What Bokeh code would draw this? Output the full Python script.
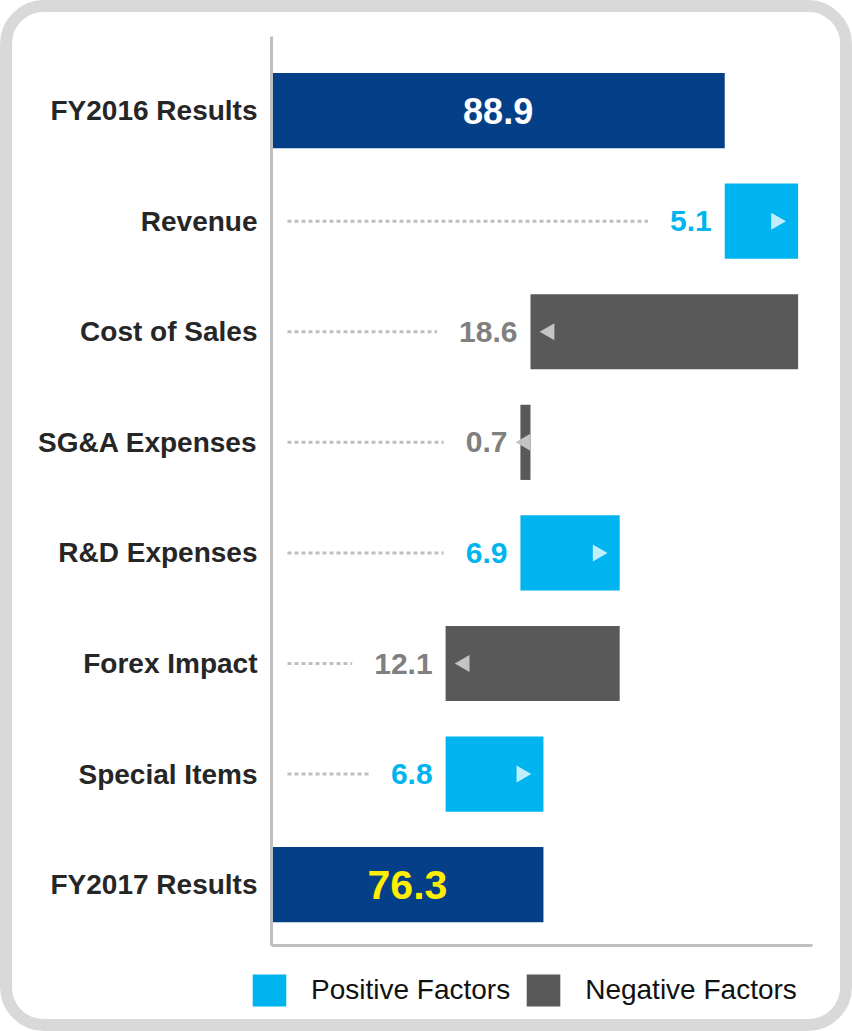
import math
from bokeh.plotting import figure
from bokeh.models import (Range1d, FixedTicker, Legend, LegendItem, ColumnDataSource, Column)
from bokeh.core.properties import value
from bokeh.embed import file_html
from bokeh.resources import INLINE

# ---------------- data ----------------
categories = ["FY2016 Results", "Revenue", "Cost of Sales", "SG&A Expenses",
              "R&D Expenses", "Forex Impact", "Special Items", "FY2017 Results"]
kinds = ["total", "positive", "negative", "negative",
         "positive", "negative", "positive", "total"]
amounts = [88.9, 5.1, 18.6, 0.7, 6.9, 12.1, 6.8, 76.3]
value_labels = ["88.9", "5.1", "18.6", "0.7", "6.9", "12.1", "6.8", "76.3"]
legend_labels = ["Positive Factors", "Negative Factors"]

# ---------------- styling ----------------
FONT = "Liberation Sans"
C_TOTAL = "#053f88"
C_POS = "#00b5ef"
C_NEG = "#595959"
C_POS_ARROW = "#c0eefc"
C_NEG_ARROW = "#c4c4c4"
C_AXIS = "#bfbfbf"

BW = 12                      # css border width of the card
PAGE_W, PAGE_H = 852, 1031
W = PAGE_W - 2 * BW
FRAME_L, FRAME_R, FRAME_T, FRAME_B = 271, 812, 36, 945   # page pixels
H1 = 960 - BW                # chart part height
H2 = PAGE_H - 2 * BW - H1    # legend strip height
ML, MR = FRAME_L - BW, W - (FRAME_R - BW)
MT, MB = FRAME_T - BW, H1 - (FRAME_B - BW)

X_START, X_END = 57.4, 95.0
SCALE = (FRAME_R - FRAME_L) / (X_END - X_START)   # px per unit
BAR_H = 0.68

# waterfall geometry (data units)
lefts, rights = [], []
running = 0.0
for k, a in zip(kinds, amounts):
    if k == "total":
        l, r = 0.0, a
        running = a
    elif k == "positive":
        l, r = running, running + a
        running += a
    else:
        l, r = running - a, running
        running -= a
    lefts.append(l)
    rights.append(r)

rows = list(range(len(categories)))

p = figure(width=W, height=H1, x_range=Range1d(X_START, X_END),
           y_range=Range1d(7.55, -0.67), output_backend="svg",
           toolbar_location=None, min_border_left=ML, min_border_right=MR,
           min_border_top=MT, min_border_bottom=MB)
p.frame_align = False
p.outline_line_color = None
p.grid.visible = False
p.background_fill_color = "white"
p.border_fill_color = "white"

# dotted leader lines
seg_x0, seg_x1, seg_y = [], [], []
for i, k in enumerate(kinds):
    if k == "total":
        continue
    nd = len(value_labels[i]) - 1
    lw = 30 * (0.556 * nd + 0.278)
    seg_x0.append(X_START + 16 / SCALE)
    seg_x1.append(lefts[i] - (13 + lw + 22) / SCALE)
    seg_y.append(rows[i])
p.segment(x0=seg_x0, x1=seg_x1, y0=seg_y, y1=seg_y, line_color=C_AXIS,
          line_width=3, line_dash="4 3")

def subset(kind):
    idx = [i for i, k in enumerate(kinds) if k == kind]
    return ColumnDataSource(dict(y=[rows[i] for i in idx],
                                 left=[lefts[i] for i in idx],
                                 right=[rights[i] for i in idx],
                                 label=[value_labels[i] for i in idx]))

src_tot = subset("total")
src_pos = subset("positive")
src_neg = subset("negative")

p.hbar(y="y", left="left", right="right", height=BAR_H, source=src_tot,
       fill_color=C_TOTAL, line_color=None)
p.hbar(y="y", left="left", right="right", height=BAR_H, source=src_pos,
       fill_color=C_POS, line_color=None)
p.hbar(y="y", left="left", right="right", height=BAR_H, source=src_neg,
       fill_color=C_NEG, line_color=None)

# arrows inside the change bars
pos_ax = [r - 22 / SCALE for r in src_pos.data["right"]]
neg_ax = [l + min(19 / SCALE, (r - l) / 2) for l, r in zip(src_neg.data["left"], src_neg.data["right"])]
p.scatter(x=pos_ax, y=src_pos.data["y"], marker="triangle", size=17,
          angle=-math.pi / 2, fill_color=C_POS_ARROW, line_color=None)
p.scatter(x=neg_ax, y=src_neg.data["y"], marker="triangle", size=17,
          angle=math.pi / 2, fill_color=C_NEG_ARROW, line_color=None)

# value labels of change bars
p.text(x="left", y="y", text="label", source=src_pos, x_offset=-13,
       text_align="right", text_baseline="middle", text_font=value(FONT),
       text_font_style="bold", text_font_size="30px", text_color=C_POS)
p.text(x="left", y="y", text="label", source=src_neg, x_offset=-13,
       text_align="right", text_baseline="middle", text_font=value(FONT),
       text_font_style="bold", text_font_size="30px", text_color="#808080")

# total labels
tot_x = [(max(l, X_START) + r) / 2 for l, r in zip(src_tot.data["left"], src_tot.data["right"])]
tot_colors = ["#ffffff", "#ffee00"]
tot_sizes = ["36px", "41px"]
for j in range(len(tot_x)):
    p.text(x=[tot_x[j]], y=[src_tot.data["y"][j]], text=[src_tot.data["label"][j]],
           text_align="center", text_baseline="middle", text_font=value(FONT),
           text_font_style="bold", text_font_size=tot_sizes[j],
           text_color=tot_colors[j])

# axes
p.yaxis.ticker = FixedTicker(ticks=rows)
p.yaxis.major_label_overrides = {i: c for i, c in enumerate(categories)}
p.yaxis.major_label_text_font = FONT
p.yaxis.major_label_text_font_style = "bold"
p.yaxis.major_label_text_font_size = "28px"
p.yaxis.major_label_text_color = "#262626"
p.yaxis.major_label_standoff = 8
p.yaxis.major_tick_line_color = None
p.yaxis.minor_tick_line_color = None
p.yaxis.axis_line_color = C_AXIS
p.yaxis.axis_line_width = 3

p.xaxis.ticker = FixedTicker(ticks=[])
p.xaxis.major_tick_line_color = None
p.xaxis.minor_tick_line_color = None
p.xaxis.axis_line_color = C_AXIS
p.xaxis.axis_line_width = 3

# ---------------- legend strip ----------------
p2 = figure(width=W, height=H2, x_range=Range1d(0, 1), y_range=Range1d(0, 1),
            output_backend="svg", toolbar_location=None, min_border=0,
            min_border_left=0, min_border_right=0, min_border_top=0,
            min_border_bottom=0, x_axis_location=None, y_axis_location=None)
p2.frame_align = False
p2.grid.visible = False
p2.outline_line_color = None
p2.background_fill_color = "white"
p2.border_fill_color = "white"
nan = float("nan")
lg_pos = p2.hbar(y=[nan], left=[nan], right=[nan], height=1, fill_color=C_POS, line_color=None)
lg_neg = p2.hbar(y=[nan], left=[nan], right=[nan], height=1, fill_color=C_NEG, line_color=None)
legend = Legend(items=[LegendItem(label=legend_labels[0], renderers=[lg_pos]),
                       LegendItem(label=legend_labels[1], renderers=[lg_neg])],
                orientation="horizontal", location=(248 - BW, (PAGE_H - BW) - 1010),
                glyph_width=42, glyph_height=40, label_text_font=FONT,
                label_text_font_size="28px", label_text_color="#111111",
                label_standoff=21, spacing=12, padding=0, margin=0,
                border_line_color=None, background_fill_alpha=0)
p2.add_layout(legend)

layout = Column(children=[p, p2], spacing=0,
                styles={"border": f"{BW}px solid #d9d9d9", "border-radius": "44px",
                        "overflow": "hidden", "box-sizing": "content-box",
                        "background": "white"})

open("out.html", "w").write(file_html(layout, INLINE))
